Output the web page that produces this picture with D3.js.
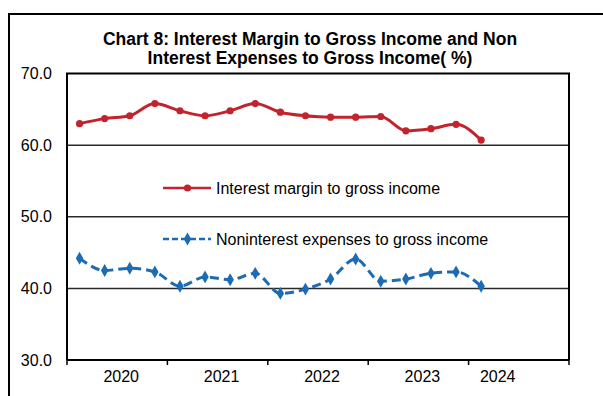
<!DOCTYPE html>
<html>
<head>
<meta charset="utf-8">
<script src="https://cdn.jsdelivr.net/npm/d3@7"></script>
<style>
  html, body { margin: 0; padding: 0; background: #fff; }
  svg { display: block; font-family: "Liberation Sans", Arial, sans-serif; }
</style>
</head>
<body>
<svg id="chart" width="603" height="396"></svg>
<script>
// Quarterly slots on the category axis (2020Q1 .. 2024Q4)
const years = ["2020", "2021", "2022", "2023", "2024"];
const quartersPerYearShown = [4, 4, 4, 4, 2];
const quarters = years.flatMap(y => ["Q1", "Q2", "Q3", "Q4"].map(q => y + q));

// Observed quarters with data (2020Q1 .. 2024Q1)
const periods = quarters.slice(0, 17);

// Interest margin to gross income (%)
const interestMargin = [63.0, 63.7, 64.1, 65.8, 64.8, 64.1, 64.8, 65.8, 64.6, 64.1, 63.9, 63.9, 64.0, 62.0, 62.3, 62.9, 60.7];

// Noninterest expenses to gross income (%)
const nonInterestExp = [44.2, 42.5, 42.8, 42.3, 40.3, 41.6, 41.2, 42.1, 39.3, 39.9, 41.3, 44.1, 41.0, 41.3, 42.1, 42.3, 40.3];

const yTicks = [30, 40, 50, 60, 70];

const seriesNames = ["Interest margin to gross income", "Noninterest expenses to gross income"];
const titleLines = ["Chart 8: Interest Margin to Gross Income and Non", "Interest Expenses to Gross Income( %)"];

const RED = "#C3232C";
const BLUE = "#1B6BB5";

const svg = d3.select("#chart");

// Outer chart border
svg.append("rect")
  .attr("x", 9).attr("y", 14)
  .attr("width", 620).attr("height", 420)
  .attr("fill", "none").attr("stroke", "#000").attr("stroke-width", 2);

// Title
svg.append("g").selectAll("text").data(titleLines).join("text")
  .attr("x", 310)
  .attr("y", (d, i) => 45 + i * 19)
  .attr("text-anchor", "middle")
  .attr("font-size", 17.5)
  .attr("font-weight", "bold")
  .attr("fill", "#000")
  .text(d => d);

const plot = { left: 67, right: 569, top: 73.5, bottom: 360 };

const x = d3.scaleBand().domain(quarters).range([plot.left, plot.right]);
const y = d3.scaleLinear().domain([30, 70]).range([plot.bottom, plot.top]);
const cx = q => x(q) + x.bandwidth() / 2;

// Gridlines
svg.append("g").selectAll("line").data(yTicks.filter(v => v > 30 && v < 70)).join("line")
  .attr("x1", plot.left).attr("x2", plot.right)
  .attr("y1", d => y(d)).attr("y2", d => y(d))
  .attr("stroke", "#2a2a2a").attr("stroke-width", 1.5);

// Plot frame (top, left, right)
svg.append("path")
  .attr("d", `M${plot.left},${plot.bottom}V${y(70)}H${plot.right}V${plot.bottom}`)
  .attr("fill", "none").attr("stroke", "#000").attr("stroke-width", 2);

// Y axis labels
const yAxis = d3.axisLeft(y).tickValues(yTicks).tickSize(0).tickPadding(15)
  .tickFormat(d3.format(".1f"));
svg.append("g")
  .attr("transform", `translate(${plot.left},0)`)
  .call(yAxis)
  .call(g => g.select(".domain").remove())
  .call(g => g.selectAll("text").attr("font-size", 16).attr("fill", "#000")
    .attr("font-family", "'Liberation Sans', Arial, sans-serif"));

// X axis: line with ticks at year boundaries
const boundaries = years.map((yr, i) => quarters[i * 4]);
svg.append("line")
  .attr("x1", plot.left).attr("x2", plot.right)
  .attr("y1", plot.bottom).attr("y2", plot.bottom)
  .attr("stroke", "#000").attr("stroke-width", 2);
svg.append("g").selectAll("line").data(boundaries.map(q => x(q)).concat([plot.right])).join("line")
  .attr("x1", d => d).attr("x2", d => d)
  .attr("y1", plot.bottom).attr("y2", plot.bottom + 5)
  .attr("stroke", "#000").attr("stroke-width", 1.5);

// Year labels centred on their group of quarters
svg.append("g").selectAll("text").data(years).join("text")
  .attr("x", (d, i) => {
    const first = quarters[i * 4];
    const last = quarters[i * 4 + quartersPerYearShown[i] - 1];
    return (x(first) + x(last) + x.bandwidth()) / 2 + 4;
  })
  .attr("y", 382)
  .attr("text-anchor", "middle")
  .attr("font-size", 16)
  .attr("fill", "#000")
  .text(d => d);

const line = d3.line().x(d => cx(d.q)).y(d => y(d.v)).curve(d3.curveMonotoneX);

const redData = periods.map((q, i) => ({ q, v: interestMargin[i] }));
const blueData = periods.map((q, i) => ({ q, v: nonInterestExp[i] }));

// Interest margin series
svg.append("path").datum(redData)
  .attr("d", line)
  .attr("fill", "none").attr("stroke", RED).attr("stroke-width", 3)
  .attr("stroke-linejoin", "round");
svg.append("g").selectAll("circle").data(redData).join("circle")
  .attr("cx", d => cx(d.q)).attr("cy", d => y(d.v)).attr("r", 3.6)
  .attr("fill", RED);

// Noninterest expenses series
svg.append("path").datum(blueData)
  .attr("d", line)
  .attr("fill", "none").attr("stroke", BLUE).attr("stroke-width", 3)
  .attr("stroke-dasharray", "9,5")
  .attr("stroke-linejoin", "round");
const diamond = d3.symbol().type(d3.symbolDiamond).size(48);
svg.append("g").selectAll("path").data(blueData).join("path")
  .attr("transform", d => `translate(${cx(d.q)},${y(d.v)})`)
  .attr("d", diamond)
  .attr("fill", BLUE);

// Legend
const legend = svg.append("g");
const legendRows = [
  { name: seriesNames[0], color: RED, y: 188, dash: null, marker: "circle", textY: 194 },
  { name: seriesNames[1], color: BLUE, y: 239, dash: "6,3", marker: "diamond", textY: 244.5 }
];
legendRows.forEach(r => {
  legend.append("line")
    .attr("x1", 163).attr("x2", 211)
    .attr("y1", r.y).attr("y2", r.y)
    .attr("stroke", r.color).attr("stroke-width", 2.5)
    .attr("stroke-dasharray", r.dash);
  if (r.marker === "circle") {
    legend.append("circle").attr("cx", 187.5).attr("cy", r.y).attr("r", 3.6).attr("fill", r.color);
  } else {
    legend.append("path").attr("transform", `translate(187.5,${r.y})`)
      .attr("d", diamond).attr("fill", r.color);
  }
  legend.append("text")
    .attr("x", 216).attr("y", r.textY)
    .attr("font-size", 16).attr("fill", "#000")
    .text(r.name);
});
</script>
</body>
</html>
